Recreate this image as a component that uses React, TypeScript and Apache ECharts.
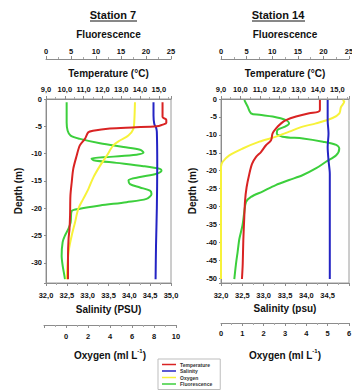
import React, { useEffect, useRef } from 'react';
import * as echarts from 'echarts';

const FONT = 'Liberation Sans, Arial, sans-serif';
const seriesNames = ['Temperature', 'Salinity', 'Oxygen', 'Fluorescence'];
const seriesColors = ['#d92323', '#2424c4', '#f7f23a', '#3ccf3c'];

// Station 7 (depth in m, positive downward)
const st7TempDepth = [0.6, 1.8, 3.3, 3.8, 4.4, 4.7, 5.0, 5.2, 5.4, 5.8, 6.1, 7.3, 8.5, 10.4, 12.8, 15.2, 17.7, 21.3, 23.8, 25.6, 28.7, 33.0];
const st7Temp = [15.2, 15.2, 15.2, 15.4, 15.4, 15.2, 14.9, 13.6, 12.4, 11.5, 11.25, 11.07, 10.8, 10.63, 10.45, 10.37, 10.3, 10.28, 10.25, 10.2, 10.17, 10.17];
const st7SalDepth = [0.6, 3.0, 4.6, 5.2, 6.0, 12, 20, 27, 33];
const st7Sal = [34.58, 34.58, 34.6, 34.64, 34.66, 34.67, 34.66, 34.64, 34.63];
const st7OxyDepth = [0.6, 4.0, 5.5, 6.7, 7.6, 8.5, 10.4, 12.2, 14.3, 16.5, 18.3, 20.1, 22.6, 25, 27.5, 29.9, 33];
const st7Oxy = [6.27, 6.21, 6.12, 5.67, 4.9, 4.3, 3.7, 3.1, 2.5, 2.03, 1.57, 1.12, 0.82, 0.52, 0.27, 0.15, 0.06];
const st7FluoDepth = [0.6, 4.3, 5.8, 6.7, 7.3, 8.1, 8.8, 9.3, 9.8, 10.2, 10.6, 10.9, 11.2, 11.7, 12.3, 12.8, 13.1, 13.7, 14.3, 14.9, 15.6, 16.2, 16.8, 17.4, 18.3, 18.9, 19.5, 20.1, 20.6, 22.6, 23.8, 25.0, 26.2, 28.7, 30.5, 32.3, 33];
const st7Fluo = [4.13, 4.13, 4.33, 4.93, 6.8, 10.8, 15.5, 18.8, 19.5, 18.1, 12.8, 9.1, 9.5, 14.1, 19.5, 22.8, 23.1, 22.1, 18.8, 16.5, 16.8, 18.8, 20.8, 21.1, 20.1, 16.1, 10.8, 6.8, 5.1, 4.93, 4.47, 3.8, 3.33, 3.13, 3.33, 3.67, 3.8];

// Station 14
const st14TempDepth = [0.3, 3.1, 3.6, 4.0, 4.9, 5.9, 6.8, 8.2, 9.6, 11.5, 12.9, 14.8, 16.2, 18.1, 20.9, 24.6, 28.4, 33, 39.5, 46, 50.2];
const st14Temp = [14.1, 14.1, 14.0, 13.55, 12.87, 12.35, 12.1, 11.84, 11.66, 11.58, 11.32, 11.06, 10.8, 10.6, 10.46, 10.32, 10.24, 10.2, 10.15, 10.12, 10.08];
const st14SalDepth = [0.3, 5.9, 9.6, 13.4, 17.1, 20.9, 34.8, 50.2];
const st14Sal = [34.5, 34.5, 34.52, 34.5, 34.52, 34.55, 34.55, 34.55];
const st14OxyDepth = [0.3, 0.7, 2.3, 4.0, 5.3, 6.8, 7.7, 9.1, 10.5, 11.9, 13.8, 15.7, 17.5, 18.9, 50.2];
const st14Oxy = [5.7, 5.78, 5.62, 5.55, 5.23, 4.45, 3.83, 3.2, 2.58, 1.8, 1.02, 0.39, 0.08, 0.0, 0.0];
const st14FluoDepth = [0.3, 2.1, 4.0, 4.4, 4.9, 5.9, 6.8, 7.7, 8.6, 9.6, 10.5, 11.0, 11.9, 12.8, 13.8, 15.7, 17.5, 19.3, 21.2, 22.6, 24.0, 25.8, 27.3, 28.7, 31.5, 35.2, 38.9, 42.6, 46.3, 50.2];
const st14Fluo = [4.55, 5.2, 5.86, 7.5, 10.1, 12.7, 13.3, 12.5, 11.07, 10.9, 12.0, 16, 19.9, 22.5, 23.1, 22.5, 20.5, 18.6, 16, 13.3, 10.7, 8.1, 5.86, 4.9, 4.55, 4.2, 3.6, 3.25, 2.9, 2.6];

const pair = (vals: number[], depths: number[]) => vals.map((v, i) => [v, depths[i]]);
const comma1 = (v: number) => v.toFixed(1).replace('.', ',');

const axisBase = (extra: any) => ({
  type: 'value',
  nameLocation: 'middle',
  axisLine: { show: true, onZero: false, lineStyle: { color: '#8c8c8c', width: 1 } },
  axisTick: { show: true, length: 3, lineStyle: { color: '#8c8c8c' } },
  minorTick: { show: true, splitNumber: 2, length: 2, lineStyle: { color: '#a8a8a8' } },
  splitLine: { show: false },
  nameTextStyle: { color: '#111', fontSize: 10, fontWeight: 'bold', fontFamily: FONT },
  ...extra,
  axisLabel: { color: '#111', fontSize: 7.5, fontWeight: 'bold', fontFamily: FONT, margin: 5, ...(extra.axisLabel || {}) },
});

const oxyName = {
  name: '{a|Oxygen (ml L}{b|-1}{a|)}',
  nameTextStyle: {
    rich: {
      a: { fontSize: 10, fontWeight: 'bold', fontFamily: FONT, color: '#111', verticalAlign: 'bottom' },
      b: { fontSize: 6, fontWeight: 'bold', fontFamily: FONT, color: '#111', verticalAlign: 'bottom', padding: [0, 0, 6, 0] },
    },
  },
};

const lineSeries = (name: string, data: number[][], xi: number, yi: number) => {
  const c = seriesColors[seriesNames.indexOf(name)];
  return {
    type: 'line',
    name,
    data,
    xAxisIndex: xi,
    yAxisIndex: yi,
    symbol: 'none',
    showSymbol: false,
    smooth: 0.3,
    color: c,
    lineStyle: { color: c, width: 2 },
    clip: false,
  };
};

export default function App() {
  const ref = useRef<HTMLDivElement>(null);
  useEffect(() => {
    if (!ref.current) return;
    const chart = echarts.init(ref.current, null, { renderer: 'svg' });
    const depthFmt = (v: number) => (v === 0 ? '0' : Number.isInteger(v) ? '-' + v : '');
    const option: any = {
      animation: false,
      backgroundColor: '#fff',
      grid: [
        { left: 46, top: 99, width: 125, height: 184, show: true, borderColor: '#9a9a9a', borderWidth: 1, outerBoundsMode: 'none' },
        { left: 44, top: 99, width: 132, height: 184, show: false, outerBoundsMode: 'none' },
        { left: 221, top: 99, width: 128, height: 184, show: true, borderColor: '#9a9a9a', borderWidth: 1, outerBoundsMode: 'none' },
      ],
      xAxis: [
        axisBase({ gridIndex: 0, position: 'top', offset: 40, min: 0, max: 25, interval: 5, name: 'Fluorescence', nameGap: 20, axisLabel: { margin: 4 } }),
        axisBase({ gridIndex: 0, position: 'top', offset: 0, min: 9, max: 15.65, interval: 1, name: 'Temperature (°C)', nameGap: 21, axisLabel: { margin: 6, formatter: (v: number) => (Number.isInteger(v) ? comma1(v) : '') } }),
        axisBase({ gridIndex: 0, position: 'bottom', offset: 0, min: 32, max: 35, interval: 0.5, name: 'Salinity (PSU)', nameGap: 21, axisLabel: { margin: 8, formatter: comma1 } }),
        axisBase({ gridIndex: 1, position: 'bottom', offset: 42, min: -2, max: 10, interval: 2, ...oxyName, nameGap: 23, axisLabel: { margin: 7, showMaxLabel: true, formatter: (v: number) => (v < 0 ? '' : String(v)) } }),
        axisBase({ gridIndex: 2, position: 'top', offset: 40, min: 0, max: 25, interval: 5, name: 'Fluorescence', nameGap: 20, axisLabel: { margin: 4 } }),
        axisBase({ gridIndex: 2, position: 'top', offset: 0, min: 9, max: 15.6, interval: 1, name: 'Temperature (°C)', nameGap: 21, axisLabel: { margin: 6, formatter: (v: number) => (Number.isInteger(v) ? comma1(v) : '') } }),
        axisBase({ gridIndex: 2, position: 'bottom', offset: 0, min: 32, max: 35, interval: 0.5, name: 'Salinity (psu)', nameGap: 20, axisLabel: { margin: 8, alignMaxLabel: 'right', formatter: comma1 } }),
        axisBase({ gridIndex: 2, position: 'bottom', offset: 40, min: 0, max: 6, interval: 1, ...oxyName, nameGap: 25, axisLabel: { margin: 6 } }),
      ],
      yAxis: [
        axisBase({ gridIndex: 0, inverse: true, min: 0, max: 33.7, interval: 5, name: 'Depth (m)', nameGap: 23, nameRotate: 90, minorTick: { show: false }, axisTick: { show: true, length: 2, lineStyle: { color: '#8c8c8c' } }, axisLabel: { margin: 4, formatter: depthFmt } }),
        { type: 'value', gridIndex: 1, inverse: true, min: 0, max: 33.7, show: false, splitLine: { show: false } },
        axisBase({ gridIndex: 2, inverse: true, min: 0, max: 51.3, interval: 5, name: 'Depth (m)', nameGap: 24, nameRotate: 90, minorTick: { show: false }, axisTick: { show: true, length: 2, lineStyle: { color: '#8c8c8c' } }, axisLabel: { margin: 4, formatter: depthFmt } }),
      ],
      legend: {
        data: seriesNames,
        orient: 'vertical',
        left: 158,
        top: 359,
        icon: 'rect',
        itemWidth: 14,
        itemHeight: 1.5,
        itemGap: 1.5,
        padding: [3, 8, 3, 4],
        borderColor: '#bdbdbd',
        borderWidth: 1,
        selectedMode: false,
        textStyle: { fontSize: 5, fontFamily: FONT, fontWeight: 'bold', color: '#333', padding: [0, 0, 0, -1] },
      },
      graphic: [
        { type: 'text', x: 113, y: 15, style: { text: 'Station 7', font: 'bold 11px ' + FONT, fill: '#111', textAlign: 'center', textVerticalAlign: 'middle' } },
        { type: 'line', shape: { x1: 90, y1: 21, x2: 137, y2: 21 }, style: { stroke: '#111', lineWidth: 1 } },
        { type: 'text', x: 278, y: 15, style: { text: 'Station 14', font: 'bold 11px ' + FONT, fill: '#111', textAlign: 'center', textVerticalAlign: 'middle' } },
        { type: 'line', shape: { x1: 252, y1: 21, x2: 305, y2: 21 }, style: { stroke: '#111', lineWidth: 1 } },
      ],
      series: [
        lineSeries('Fluorescence', pair(st7Fluo, st7FluoDepth), 0, 0),
        lineSeries('Oxygen', pair(st7Oxy, st7OxyDepth), 3, 1),
        lineSeries('Salinity', pair(st7Sal, st7SalDepth), 2, 0),
        lineSeries('Temperature', pair(st7Temp, st7TempDepth), 1, 0),
        lineSeries('Fluorescence', pair(st14Fluo, st14FluoDepth), 4, 2),
        lineSeries('Oxygen', pair(st14Oxy, st14OxyDepth), 7, 2),
        lineSeries('Salinity', pair(st14Sal, st14SalDepth), 6, 2),
        lineSeries('Temperature', pair(st14Temp, st14TempDepth), 5, 2),
      ],
    };
    chart.setOption(option);
    return () => chart.dispose();
  }, []);
  return (
    <div style={{ position: 'absolute', left: 0, top: 0, width: 352, height: 391, background: '#fff' }}>
      <div ref={ref} style={{ width: 352, height: 391 }} />
    </div>
  );
}
